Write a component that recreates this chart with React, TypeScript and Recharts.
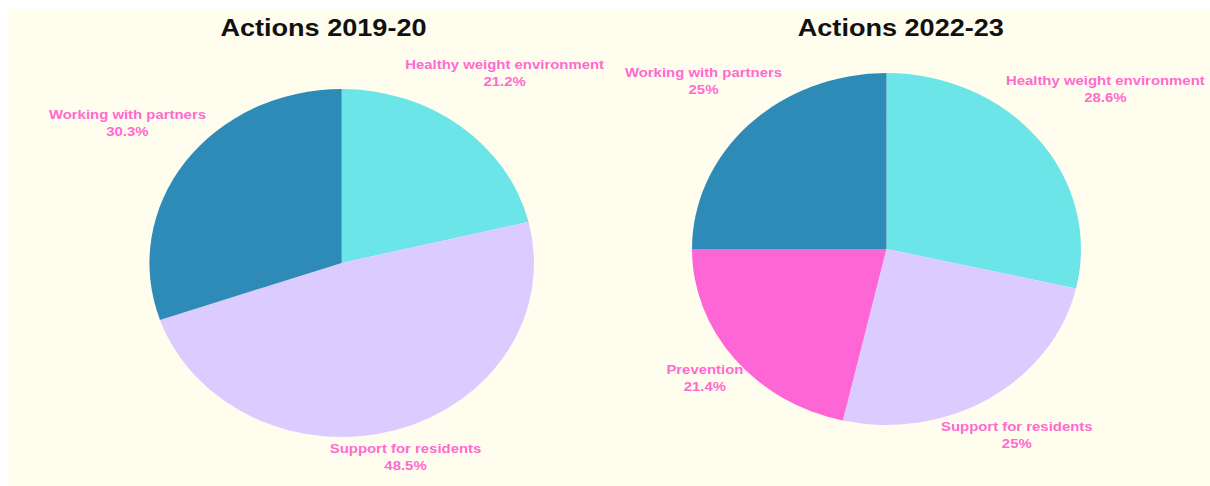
import React from "react";
import { PieChart, Pie, Cell } from "recharts";

const categories2019 = ["Healthy weight environment", "Support for residents", "Working with partners"];
const values2019 = [21.2, 48.5, 30.3];
const categories2022 = ["Healthy weight environment", "Support for residents", "Prevention", "Working with partners"];
const values2022 = [28.6, 25, 21.4, 25];
const titles = ["Actions 2019-20", "Actions 2022-23"];

const colorMap: Record<string, string> = {
  "Healthy weight environment": "#6be5e8",
  "Support for residents": "#dccbff",
  "Prevention": "#ff66d5",
  "Working with partners": "#2e8bb8",
};

const data2019 = categories2019.map((name, i) => ({ name, value: values2019[i] }));
const data2022 = categories2022.map((name, i) => ({ name, value: values2022[i] }));

const LABEL_FONT = "bold 13.5px 'Liberation Sans', Arial, sans-serif";
let ctx: CanvasRenderingContext2D | null = null;
function measure(t: string): number {
  if (typeof document === "undefined") return t.length * 6.9;
  if (!ctx) ctx = document.createElement("canvas").getContext("2d");
  if (!ctx) return t.length * 6.9;
  ctx.font = LABEL_FONT;
  return ctx.measureText(t).width;
}

const RAD = Math.PI / 180;
const renderLabel = (props: any) => {
  const { cx, cy, midAngle, outerRadius, name, value } = props;
  const c = Math.cos(-midAngle * RAD);
  const s = Math.sin(-midAngle * RAD);
  const pct = `${value}%`;
  const hw = Math.max(measure(name), measure(pct)) / 2;
  const hh = 14;
  const d = outerRadius + hw * Math.abs(c) + hh * Math.abs(s) - 2;
  const x = cx + d * c;
  const y = cy + d * s;
  return (
    <text
      x={x}
      y={y}
      textAnchor="middle"
      fill="#ff6ad0"
      style={{ font: LABEL_FONT }}
    >
      <tspan x={x} y={y - 6}>{name}</tspan>
      <tspan x={x} y={y + 11}>{pct}</tspan>
    </text>
  );
};

const SX = 1.105;
const W = 1088;
const H = 477;

export default function App() {
  return (
    <div
      style={{
        position: "fixed",
        left: 8,
        top: 9,
        right: 0,
        bottom: 0,
        background: "#fffdee",
        overflow: "hidden",
      }}
    >
      <div
        style={{
          position: "absolute",
          left: 0,
          top: 0,
          width: W,
          height: H,
          transform: `scaleX(${SX})`,
          transformOrigin: "0 0",
        }}
      >
        <div
          style={{
            position: "absolute",
            left: 285.5 - 150,
            width: 300,
            top: 5,
            textAlign: "center",
            font: "bold 24.5px 'Liberation Sans', Arial, sans-serif",
            color: "#111",
          }}
        >
          {titles[0]}
        </div>
        <div
          style={{
            position: "absolute",
            left: 808 - 150,
            width: 300,
            top: 5,
            textAlign: "center",
            font: "bold 24.5px 'Liberation Sans', Arial, sans-serif",
            color: "#111",
          }}
        >
          {titles[1]}
        </div>
        <PieChart
          width={W}
          height={H}
          margin={{ top: 0, right: 0, bottom: 0, left: 0 }}
          style={{ position: "absolute", left: 0, top: 0 }}
        >
          <Pie
            data={data2019}
            dataKey="value"
            nameKey="name"
            cx={302}
            cy={254}
            outerRadius={174}
            startAngle={90}
            endAngle={-270}
            stroke="none"
            label={renderLabel}
            labelLine={false}
            isAnimationActive={false}
          >
            {data2019.map((d) => (
              <Cell key={d.name} fill={colorMap[d.name]} />
            ))}
          </Pie>
          <Pie
            data={data2022}
            dataKey="value"
            nameKey="name"
            cx={795}
            cy={240}
            outerRadius={176}
            startAngle={90}
            endAngle={-270}
            stroke="none"
            label={renderLabel}
            labelLine={false}
            isAnimationActive={false}
          >
            {data2022.map((d) => (
              <Cell key={d.name} fill={colorMap[d.name]} />
            ))}
          </Pie>
        </PieChart>
      </div>
    </div>
  );
}
